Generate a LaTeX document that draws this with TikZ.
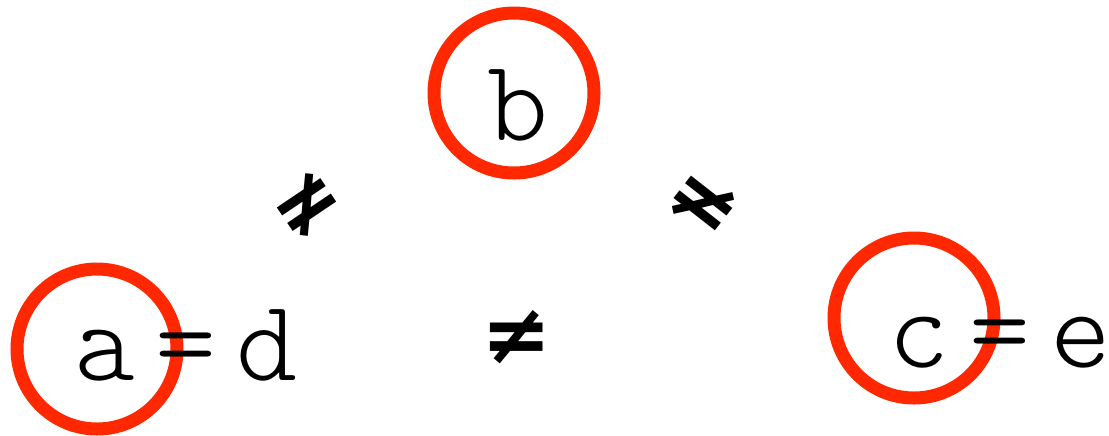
\documentclass[tikz,border=0pt]{standalone}
\usepackage{fontspec}
\newfontfamily\courfont[LetterSpace=17]{Latin Modern Mono Light}
\newfontfamily\symfont{DejaVu Sans}
\definecolor{ringred}{RGB}{255,40,0}

\begin{document}
\begin{tikzpicture}[x=0.5pt, y=-0.5pt, every node/.style={inner sep=0pt}]
\tikzset{
  ring/.style={draw=ringred, line width=6.5pt, circle, minimum size=80pt},
  letters/.style={font=\courfont\fontsize{58}{58}\selectfont, anchor=base},
  neq/.style={font=\symfont\bfseries\fontsize{42}{42}\selectfont}
}
\useasboundingbox (0,0) rectangle (1109,435);
\node[ring] (ringa) at (97,349) {};
\node[ring] (ringb) at (514,93) {};
\node[ring] (ringc) at (914,318) {};
\node[letters] (ad) at (186,380) {a=d};
\node[letters] (b) at (518,140) {b};
\node[letters] (ce) at (1000,367) {c=e};
\node[neq, rotate=34] (neqab) at (307,205) {≠};
\node[neq, rotate=-38] (neqbc) at (703,203) {≠};
\node[neq] (neqac) at (517,337) {≠};
\end{tikzpicture}
\end{document}
